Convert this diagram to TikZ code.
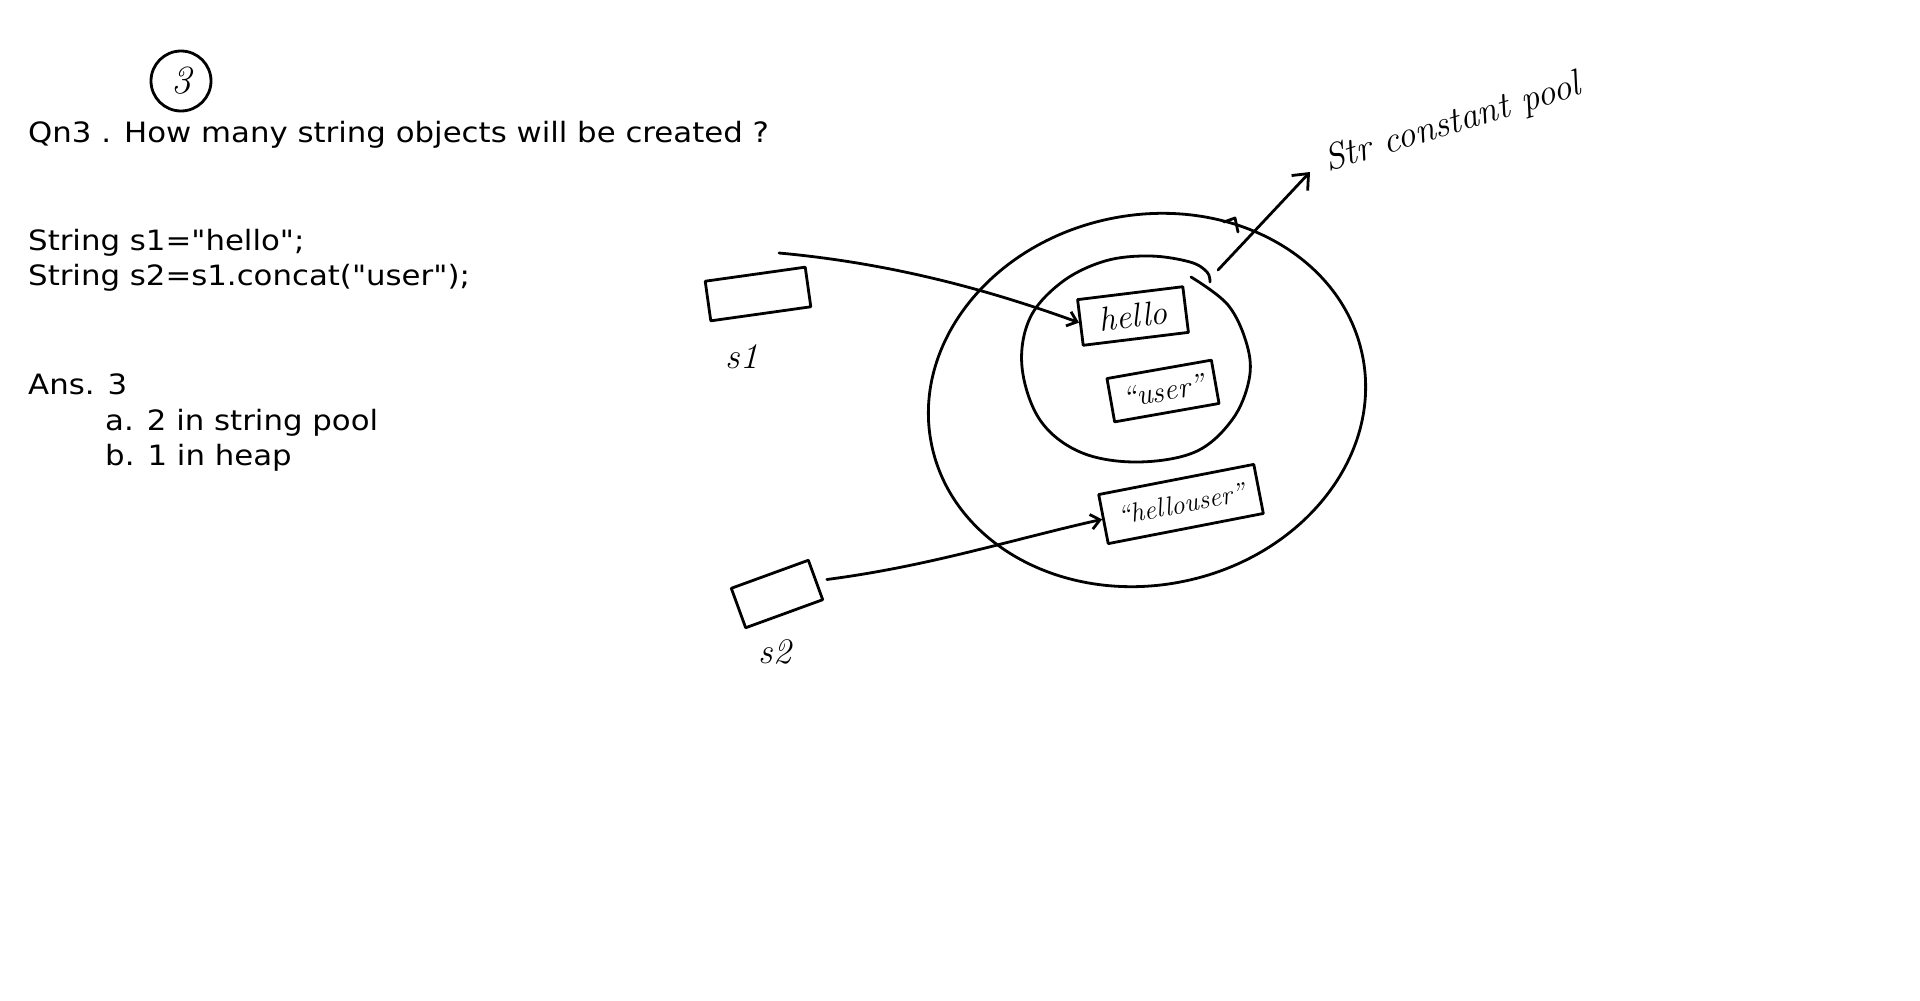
\documentclass[tikz,border=0pt]{standalone}
\usepackage{fontspec}
\usetikzlibrary{arrows.meta}
\newfontfamily\typed[FakeStretch=1.1]{DejaVu Sans}
\begin{document}
\begin{tikzpicture}[x=1pt,y=-1pt,
  ink/.style={line width=2.8pt, line cap=round, line join=round},
  typedtext/.style={anchor=base west, inner sep=0pt, font=\typed\fontsize{28}{34}\selectfont},
  handtext/.style={inner sep=0pt, font=\itshape\fontsize{36}{36}\selectfont},
  inkbox/.style={draw, ink, inner sep=0pt},
  hbox/.style={draw, ink, inner sep=0pt, font=\itshape\fontsize{34}{34}\selectfont},
  barb/.style={-{Straight Barb[length=9pt,width=15pt]}}
]
\useasboundingbox (0,0) rectangle (1920,1001);

% typed text
\node[typedtext] (q) at (28,142) {Qn3 . How many string objects will be created ?};
\node[typedtext] (c1) at (28,250) {String s1="hello";};
\node[typedtext] (c2) at (28,285) {String s2=s1.concat("user");};
\node[typedtext] (ans) at (28,394) {Ans. 3};
\node[typedtext] (a) at (105,430) {a. 2 in string pool};
\node[typedtext] (b) at (105,465) {b. 1 in heap};

% circled 3
\node[draw, circle, ink, minimum size=60pt, inner sep=0pt, font=\itshape\fontsize{40}{40}\selectfont] (num) at (181,81) {3};

% reference boxes
\node[inkbox, rotate=8, minimum width=101pt, minimum height=40pt] (s1box) at (758,294) {};
\node[handtext] (s1lab) at (742,357) {s1};
\node[inkbox, rotate=20, minimum width=82pt, minimum height=42pt] (s2box) at (777,594) {};
\node[handtext] (s2lab) at (775,652) {s2};

% heap (outer) and string pool (inner)
\draw[ink, rotate around={12:(1147,400)}] (1147,400) ellipse [x radius=220, y radius=185];
\draw[ink] plot[smooth, tension=0.6] coordinates {
  (1191,277) (1228,305) (1247,345) (1249,380) (1232,420) (1195,452)
  (1136,462) (1080,452) (1040,420) (1022,367) (1030,318) (1062,282)
  (1105,261) (1150,256) (1190,262) (1207,272) (1210,282)};
\draw[ink] (1224,222) -- (1235,218) -- (1238,232);

% string objects
\node[hbox, rotate=7, minimum width=106pt, minimum height=46pt] (hello) at (1133,316) {hello};
\node[hbox, rotate=10, minimum width=106pt, minimum height=44pt, font=\itshape\fontsize{30}{30}\selectfont] (user) at (1163,391) {``user''};
\node[hbox, rotate=11, minimum width=158pt, minimum height=50pt, font=\itshape\fontsize{27}{27}\selectfont] (hellouser) at (1181,504) {``hellouser''};

% label of the pool
\node[handtext, anchor=base west, rotate=17, font=\itshape\fontsize{37}{37}\selectfont] (pool) at (1328,172) {Str constant pool};

% connectors
\coordinate (s1start) at (779,253);
\draw[ink, barb] (s1start) .. controls (900,264) and (1000,294) .. (hello.west);
\draw[ink, barb] ([xshift=10pt]s2box.east) .. controls (930,566) and (1010,540) .. (hellouser.west);
\coordinate (gap) at (1218,270);
\coordinate (tip) at (1310,172);
\draw[ink, -{Straight Barb[length=13pt,width=22pt]}] (gap) -- (tip);
\end{tikzpicture}
\end{document}
